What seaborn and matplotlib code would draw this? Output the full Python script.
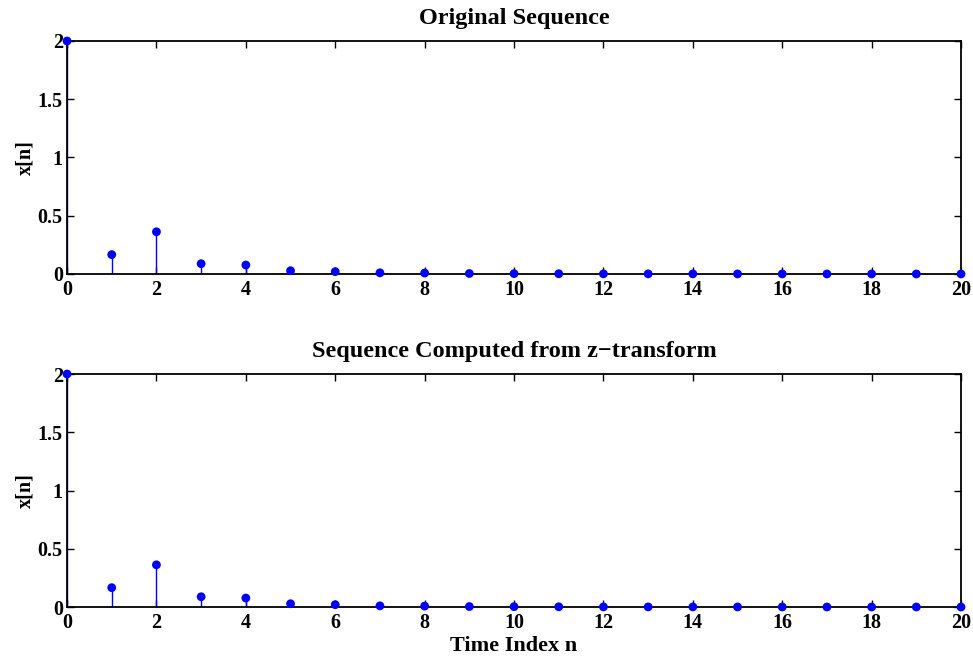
import numpy as np
import pandas as pd
import matplotlib
matplotlib.use("Agg")
import matplotlib.pyplot as plt
import seaborn as sns

# Data
n = list(range(21))
x_original = [2.0, 0.166, 0.362, 0.088, 0.077, 0.028, 0.020, 0.010, 0.008, 0.004,
              0.003, 0.002, 0.001, 0.001, 0.001, 0.0005, 0.0004, 0.0002, 0.0002, 0.0001, 0.0001]
x_computed = [2.0, 0.166, 0.362, 0.088, 0.077, 0.028, 0.020, 0.010, 0.008, 0.004,
              0.003, 0.002, 0.001, 0.001, 0.001, 0.0005, 0.0004, 0.0002, 0.0002, 0.0001, 0.0001]
titles = ["Original Sequence", "Sequence Computed from z\u2212transform"]
xticks = list(range(0, 21, 2))
yticks = [0, 0.5, 1, 1.5, 2]
ytick_labels = ["0", "0.5", "1", "1.5", "2"]

sns.set_style("white")
plt.rcParams['font.family'] = ['Liberation Serif', 'DejaVu Serif']
plt.rcParams['font.weight'] = 'bold'
plt.rcParams['text.color'] = 'black'
plt.rcParams['axes.labelcolor'] = 'black'
plt.rcParams['xtick.color'] = 'black'
plt.rcParams['ytick.color'] = 'black'

fig = plt.figure(figsize=(9.73, 6.57), dpi=100)
positions = [[0.0689, 0.583, 0.9188, 0.3546], [0.0689, 0.0761, 0.9188, 0.3546]]

for pos, vals, title in zip(positions, [x_original, x_computed], titles):
    ax = fig.add_axes(pos)
    df = pd.DataFrame({"n": n, "x": vals})
    ax.vlines(df["n"], 0, df["x"], colors="#0000ff", linewidth=1.0, zorder=2)
    sns.scatterplot(data=df, x="n", y="x", ax=ax, color="#0000ff", s=40,
                    edgecolor="none", zorder=3, clip_on=False)
    ax.set_xlim(0, 20)
    ax.set_ylim(0, 2)
    ax.set_xticks(xticks)
    ax.set_xticklabels([str(t) for t in xticks], fontsize=14.5, fontweight='bold')
    ax.set_yticks(yticks)
    ax.set_yticklabels(ytick_labels, fontsize=14.5, fontweight='bold')
    ax.tick_params(direction='in', length=5, width=1, top=True, right=True,
                   bottom=True, left=True, colors='black')
    ax.tick_params(axis='x', pad=4)
    ax.tick_params(axis='y', pad=3)
    for s in ax.spines.values():
        s.set_visible(True)
        s.set_color('black')
        s.set_linewidth(1.3)
    ax.set_title(title, fontsize=17.5, fontweight='bold', pad=12, color='black')
    ax.set_ylabel("x[n]", fontsize=14.5, fontweight='bold', labelpad=2, color='black')
    ax.set_xlabel("")
    ax.grid(False)

ax.set_xlabel("Time Index n", fontsize=16, fontweight='bold', labelpad=2.5, color='black')

fig.savefig("out.png", dpi=100, facecolor='white')
